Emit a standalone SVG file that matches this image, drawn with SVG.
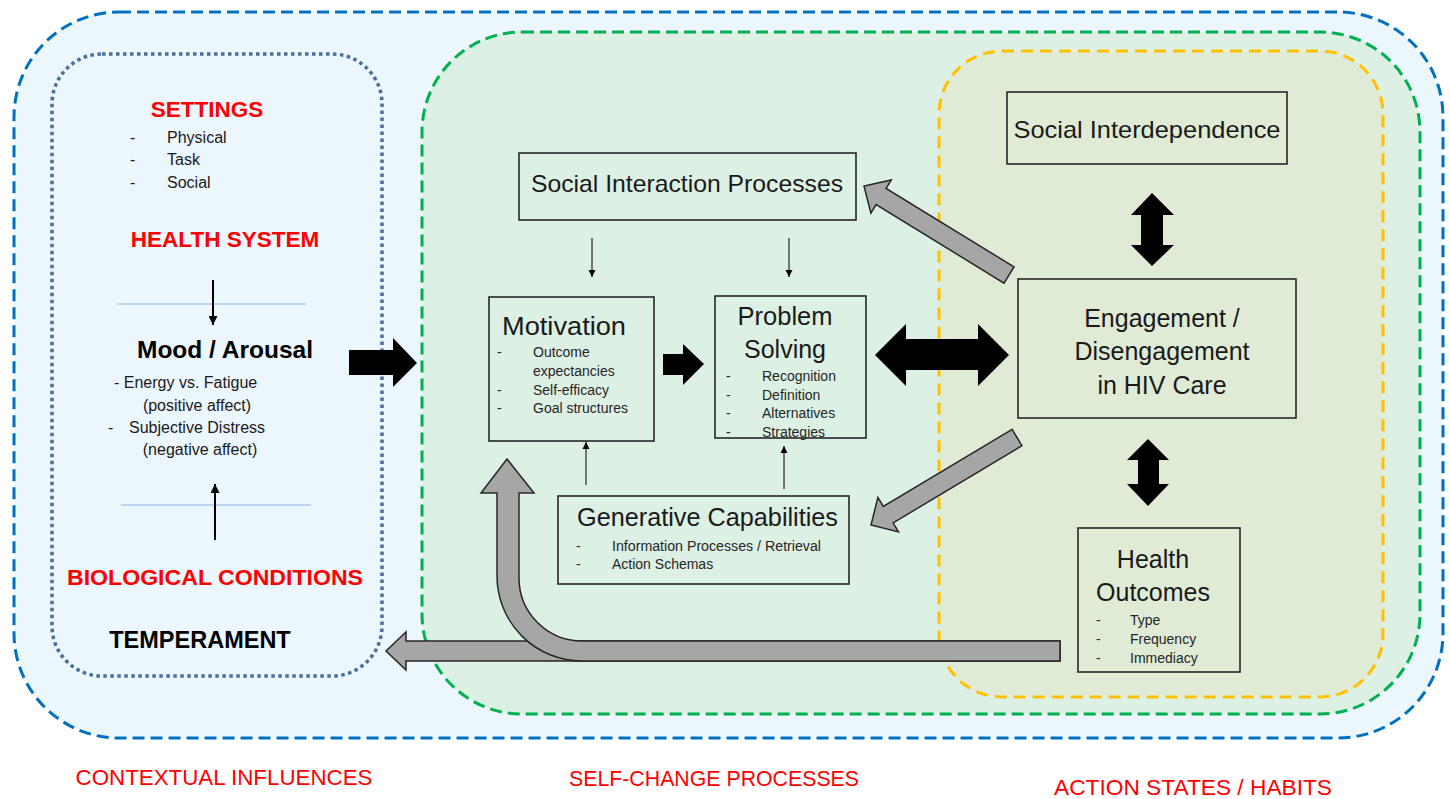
<svg xmlns="http://www.w3.org/2000/svg" width="1450" height="799" viewBox="0 0 1450 799">
<defs>
<style>
text{font-family:"Liberation Sans",Arial,sans-serif;fill:#1a1a1a}
.red{fill:#FF0000}
.b{font-weight:bold}
.blk{fill:#000}
.box{fill:none;stroke:#262626;stroke-width:1.6}
.item{font-size:14px;fill:#262626}
.lp{font-size:16px;fill:#1a1a1a}
.grey{fill:#A6A6A6;stroke:#262626;stroke-width:1.5;stroke-linejoin:miter}
.solid{fill:#000}
.thin{stroke:#000;stroke-width:1;fill:none}
.mid{stroke:#000;stroke-width:2;fill:none}
.hl{stroke:#8DB4E2;stroke-width:1}
</style>
<marker id="ah" viewBox="0 0 10 10" refX="10" refY="5" markerWidth="7" markerHeight="8" markerUnits="userSpaceOnUse" orient="auto">
<path d="M0,0 L10,5 L0,10 Z" fill="#000"/>
</marker>
<marker id="ah2" viewBox="0 0 10 10" refX="10" refY="5" markerWidth="10" markerHeight="9" markerUnits="userSpaceOnUse" orient="auto">
<path d="M0,0 L10,5 L0,10 Z" fill="#000"/>
</marker>
</defs>
<rect width="1450" height="799" fill="#FFFFFF"/>

<g id="containers">
<rect id="contextual" x="14" y="12" width="1429" height="726" rx="105" fill="#ECF6FD" stroke="#0070C0" stroke-width="3" stroke-dasharray="12,6"/>
<rect id="left-panel" x="52" y="54" width="330" height="622" rx="50" fill="#ECF6FD" stroke="#4A6F9A" stroke-width="3.5" stroke-dasharray="3.5,3.5"/>
<rect id="self-change" x="422" y="32" width="998" height="682" rx="100" fill="#DDF0E4" stroke="#00B050" stroke-width="3" stroke-dasharray="12,6"/>
<rect id="action-states" x="939" y="51" width="444" height="646" rx="63" fill="#E0EBD6" stroke="#FFC000" stroke-width="3" stroke-dasharray="12,7"/>
</g>

<g id="left-content">
<text x="207" y="117" class="red b" font-size="22.5" text-anchor="middle">SETTINGS</text>
<text x="130" y="143" class="lp">-</text><text x="167" y="143" class="lp">Physical</text>
<text x="130" y="165" class="lp">-</text><text x="167" y="165" class="lp">Task</text>
<text x="130" y="188" class="lp">-</text><text x="167" y="188" class="lp">Social</text>
<text x="225" y="247" class="red b" font-size="22.5" text-anchor="middle">HEALTH SYSTEM</text>
<line x1="117" y1="304" x2="306" y2="304" class="hl"/>
<line x1="213" y1="280" x2="213" y2="325" class="mid" marker-end="url(#ah2)"/>
<text x="225" y="358" class="b blk" font-size="24.5" text-anchor="middle">Mood / Arousal</text>
<text x="114" y="388" class="lp">- Energy vs. Fatigue</text>
<text x="197" y="411" class="lp" text-anchor="middle">(positive affect)</text>
<text x="108" y="433" class="lp">-</text><text x="129" y="433" class="lp">Subjective Distress</text>
<text x="200" y="455" class="lp" text-anchor="middle">(negative affect)</text>
<line x1="121" y1="505" x2="311" y2="505" class="hl"/>
<line x1="215" y1="540" x2="215" y2="484" class="mid" marker-end="url(#ah2)"/>
<text x="215" y="585" class="red b" font-size="22.5" text-anchor="middle" textLength="296" lengthAdjust="spacingAndGlyphs">BIOLOGICAL CONDITIONS</text>
<text x="200" y="648" class="b blk" font-size="23.5" text-anchor="middle">TEMPERAMENT</text>
</g>

<g id="connectors">
<path d="M349,350 L393,350 L393,338 L417,363 L393,387 L393,375 L349,375 Z" class="solid"/>
<path d="M663,354 L683,354 L683,344 L704,364 L683,385 L683,375 L663,375 Z" class="solid"/>
<path d="M875,355 L906,324 L906,339 L978,339 L978,324 L1009,355 L978,386 L978,370 L906,370 L906,386 Z" class="solid"/>
<path d="M1152,193 L1174,215 L1163,215 L1163,245 L1174,245 L1152,266 L1131,245 L1141,245 L1141,215 L1131,215 Z" class="solid"/>
<path d="M1148,439 L1169,460 L1159,460 L1159,484 L1169,484 L1148,506 L1127,484 L1138,484 L1138,460 L1127,460 Z" class="solid"/>
<line x1="592" y1="238" x2="592" y2="277" class="thin" marker-end="url(#ah)"/>
<line x1="789" y1="238" x2="789" y2="277" class="thin" marker-end="url(#ah)"/>
<line x1="586" y1="485" x2="586" y2="442" class="thin" marker-end="url(#ah)"/>
<line x1="784" y1="489" x2="784" y2="446" class="thin" marker-end="url(#ah)"/>
<polygon points="1014,266.9 886.1,188.4 891.3,179.9 864,186 870.9,213.1 876.1,204.6 1004,283.1" class="grey"/>
<polygon points="1012.1,429.3 883.3,506.5 877.9,497.5 871,525 898.5,531.9 893.1,522.9 1021.9,445.7" class="grey"/>
<path d="M1060,641 L406,641 L406,632 L386,651 L406,670 L406,661 L1060,661 Z" class="grey"/>
<path d="M1060,641 L582,641 A63,63 0 0 1 519,578 L519,493 L534,493 L507,459 L481,493 L497,493 L497,576 A85,85 0 0 0 582,661 L1060,661 Z" class="grey"/>
</g>

<g id="social-interaction">
<rect x="519" y="153" width="337" height="67" class="box"/>
<text x="687" y="192" font-size="24" text-anchor="middle" textLength="312" lengthAdjust="spacingAndGlyphs">Social Interaction Processes</text>
</g>

<g id="motivation">
<rect x="489" y="297" width="165" height="144" class="box"/>
<text x="502" y="335" font-size="26" textLength="124" lengthAdjust="spacingAndGlyphs">Motivation</text>
<text x="497" y="357" class="item">-</text><text x="533" y="357" class="item">Outcome</text>
<text x="533" y="376" class="item">expectancies</text>
<text x="497" y="395" class="item">-</text><text x="533" y="395" class="item">Self-efficacy</text>
<text x="497" y="413" class="item">-</text><text x="533" y="413" class="item">Goal structures</text>
</g>

<g id="problem-solving">
<rect x="715" y="296" width="151" height="142" class="box"/>
<text x="785" y="325" font-size="25.5" text-anchor="middle">Problem</text>
<text x="785" y="358" font-size="25" text-anchor="middle">Solving</text>
<text x="726" y="381" class="item">-</text><text x="762" y="381" class="item">Recognition</text>
<text x="726" y="400" class="item">-</text><text x="762" y="400" class="item">Definition</text>
<text x="726" y="418" class="item">-</text><text x="762" y="418" class="item">Alternatives</text>
<text x="726" y="437" class="item">-</text><text x="762" y="437" class="item">Strategies</text>
</g>

<g id="generative-capabilities">
<rect x="558" y="496" width="291" height="88" class="box"/>
<text x="577" y="526" font-size="25" textLength="261" lengthAdjust="spacingAndGlyphs">Generative Capabilities</text>
<text x="576" y="551" class="item">-</text><text x="612" y="551" class="item" textLength="209" lengthAdjust="spacingAndGlyphs">Information Processes / Retrieval</text>
<text x="576" y="569" class="item">-</text><text x="612" y="569" class="item">Action Schemas</text>
</g>

<g id="social-interdependence">
<rect x="1007" y="92" width="280" height="72" class="box"/>
<text x="1147" y="138" font-size="24" text-anchor="middle" textLength="267" lengthAdjust="spacingAndGlyphs">Social Interdependence</text>
</g>

<g id="engagement">
<rect x="1018" y="279" width="278" height="139" class="box"/>
<text x="1162" y="327" font-size="25" text-anchor="middle">Engagement /</text>
<text x="1162" y="360" font-size="25" text-anchor="middle">Disengagement</text>
<text x="1162" y="394" font-size="25" text-anchor="middle">in HIV Care</text>
</g>

<g id="health-outcomes">
<rect x="1078" y="528" width="162" height="144" class="box"/>
<text x="1153" y="568" font-size="25" text-anchor="middle">Health</text>
<text x="1153" y="601" font-size="25" text-anchor="middle">Outcomes</text>
<text x="1096" y="625" class="item">-</text><text x="1130" y="625" class="item">Type</text>
<text x="1096" y="644" class="item">-</text><text x="1130" y="644" class="item">Frequency</text>
<text x="1096" y="663" class="item">-</text><text x="1130" y="663" class="item">Immediacy</text>
</g>

<g id="bottom-labels">
<text x="224" y="785" class="red" font-size="22" text-anchor="middle" textLength="297" lengthAdjust="spacingAndGlyphs">CONTEXTUAL INFLUENCES</text>
<text x="714" y="786" class="red" font-size="22" text-anchor="middle" textLength="290" lengthAdjust="spacingAndGlyphs">SELF-CHANGE PROCESSES</text>
<text x="1193" y="795" class="red" font-size="22" text-anchor="middle" textLength="278" lengthAdjust="spacingAndGlyphs">ACTION STATES / HABITS</text>
</g>
</svg>
